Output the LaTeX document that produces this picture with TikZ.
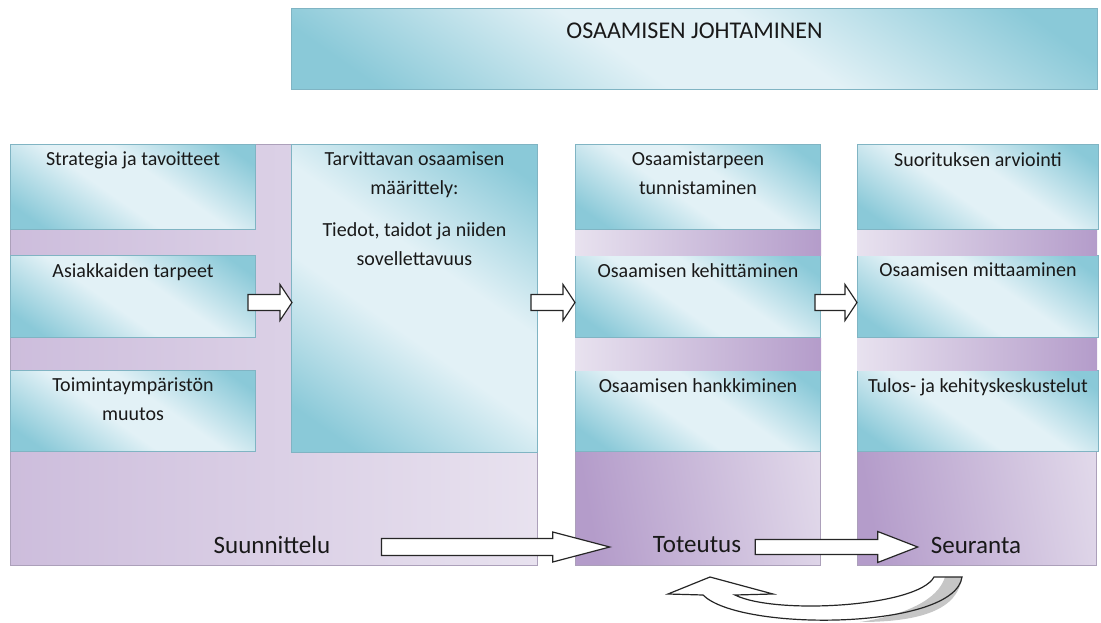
\documentclass[tikz,border=0pt]{standalone}
\usepackage{fontspec}
\setmainfont{Carlito}
\usetikzlibrary{positioning,calc}

\definecolor{blueDark}{RGB}{138,201,216}
\definecolor{blueLight}{RGB}{226,241,246}
\definecolor{blueEdge}{RGB}{128,180,195}
\definecolor{purpDark}{RGB}{180,156,202}
\definecolor{purpMid}{RGB}{205,189,220}
\definecolor{purpLight}{RGB}{232,226,239}
\definecolor{purpEdge}{RGB}{172,160,186}
\definecolor{textcol}{RGB}{25,25,25}

\pgfdeclareverticalshading{glass}{100bp}{color(0bp)=(blueDark); color(22bp)=(blueDark);
  color(44bp)=(blueLight); color(57bp)=(blueLight); color(79bp)=(blueDark); color(100bp)=(blueDark)}

\tikzset{
  bluebox/.style={rectangle, anchor=north west, inner sep=0pt, draw=blueEdge, line width=1pt,
    shading=glass, shading angle=-35},
  colbox/.style={rectangle, anchor=north west, inner sep=0pt, draw=purpEdge, line width=1pt,
    left color=purpDark, right color=purpLight, shading angle=120},
  stripe/.style={left color=purpLight, right color=purpDark},
  boxtext/.style={inner sep=0pt, align=center, text=textcol, font=\fontsize{20}{29}\selectfont},
  titletext/.style={inner sep=0pt, text=textcol, font=\fontsize{24}{28}\selectfont},
  phasetext/.style={inner sep=0pt, text=textcol, font=\fontsize{25}{30}\selectfont},
  blockarrow/.style={fill=white, draw=black!85, line width=1.2pt, line join=miter},
}

% hollow block arrow: start, end, shaft half, head half, head length
\newcommand{\hollowarrow}[5]{%
  \draw[blockarrow] ($(#1)+(0,#3)$) -- ($(#2)+(-#5,#3)$) -- ($(#2)+(-#5,#4)$) -- (#2)
    -- ($(#2)+(-#5,-#4)$) -- ($(#2)+(-#5,-#3)$) -- ($(#1)+(0,-#3)$) -- cycle;}

\begin{document}
\begin{tikzpicture}[x=1pt,y=-1pt]
  \useasboundingbox (0,0) rectangle (1101,623);

  % otsikko
  \node[bluebox, minimum width=806pt, minimum height=81pt] (johto) at (291,8) {};
  \node[titletext, below=15pt of johto.north] {OSAAMISEN JOHTAMINEN};

  % vaiheet
  \node[colbox, minimum width=527pt, minimum height=421pt, left color=purpMid] (suunnittelu) at (10,144) {};
  \node[colbox, minimum width=245pt, minimum height=421pt, shading angle=100] (toteutus) at (575,144) {};
  \node[colbox, minimum width=239pt, minimum height=421pt, shading angle=100] (seuranta) at (857,144) {};

  % suunnittelu
  \node[bluebox, minimum width=245pt, minimum height=85pt] (strategia) at (10,144) {};
  \node[bluebox, minimum width=245pt, minimum height=82pt] (asiakkaat) at (10,255) {};
  \node[bluebox, minimum width=245pt, minimum height=81pt] (ymparisto) at (10,370) {};
  \node[bluebox, minimum width=246pt, minimum height=308pt] (maarittely) at (291,144) {};
  \node[boxtext, below=8pt of strategia.north] {Strategia ja tavoitteet};
  \node[boxtext, below=8pt of asiakkaat.north] {Asiakkaiden tarpeet};
  \node[boxtext, below=8pt of ymparisto.north] {Toimintaympäristön\\muutos};
  \node[boxtext, below=8pt of maarittely.north] {Tarvittavan osaamisen\\määrittely:\\[13pt]Tiedot, taidot ja niiden\\sovellettavuus};

  % toteutus
  \node[bluebox, minimum width=245pt, minimum height=85pt] (tunnistus) at (575,144) {};
  \node[bluebox, minimum width=245pt, minimum height=82pt] (kehitys) at (575,255) {};
  \node[bluebox, minimum width=245pt, minimum height=81pt] (hankinta) at (575,370) {};
  \path[stripe] (tunnistus.south west) rectangle (kehitys.north east);
  \path[stripe] (kehitys.south west) rectangle (hankinta.north east);
  \node[boxtext, below=8pt of tunnistus.north] {Osaamistarpeen\\tunnistaminen};
  \node[boxtext, below=8pt of kehitys.north] {Osaamisen kehittäminen};
  \node[boxtext, below=8pt of hankinta.north] {Osaamisen hankkiminen};

  % seuranta
  \node[bluebox, minimum width=241pt, minimum height=85pt] (arviointi) at (857,144) {};
  \node[bluebox, minimum width=241pt, minimum height=82pt] (mittaus) at (857,255) {};
  \node[bluebox, minimum width=241pt, minimum height=81pt] (keskustelut) at (857,370) {};
  \path[stripe] (arviointi.south west) rectangle ($(mittaus.north east)+(-2,0)$);
  \path[stripe] (mittaus.south west) rectangle ($(keskustelut.north east)+(-2,0)$);
  \node[boxtext, below=8pt of arviointi.north] {Suorituksen arviointi};
  \node[boxtext, below=8pt of mittaus.north] {Osaamisen mittaaminen};
  \node[boxtext, below=8pt of keskustelut.north] {Tulos- ja kehityskeskustelut};

  % vaiheiden nimet
  \node[phasetext] (suuntxt) at (272,545) {Suunnittelu};
  \node[phasetext] (totetxt) at (697,545) {Toteutus};
  \node[phasetext] (seurtxt) at (976,545) {Seuranta};

  % nuolet
  \coordinate (a1s) at ($(asiakkaat.east)+(-8,6)$);
  \coordinate (a1e) at ($(asiakkaat.east -| maarittely.west)+(1,6)$);
  \coordinate (a2s) at ($(kehitys.west -| maarittely.east)+(-7,6)$);
  \coordinate (a2e) at ($(kehitys.west)+(0,6)$);
  \coordinate (a3s) at ($(kehitys.east)+(-6,6)$);
  \coordinate (a3e) at ($(mittaus.west)+(0,6)$);
  \hollowarrow{a1s}{a1e}{8}{18}{12}
  \hollowarrow{a2s}{a2e}{8}{18}{12}
  \hollowarrow{a3s}{a3e}{8}{18}{12}

  \coordinate (b1s) at ($(suuntxt.east)+(51,2)$);
  \coordinate (b1e) at ($(totetxt.west)+(-43,2)$);
  \coordinate (b2s) at ($(totetxt.east)+(14,2)$);
  \coordinate (b2e) at ($(seurtxt.west)+(-13,2)$);
  \hollowarrow{b1s}{b1e}{8.5}{15}{57}
  \hollowarrow{b2s}{b2e}{7.5}{15.5}{40}

  % paluunuoli
  \fill[gray!45] (945,577) -- (962,577) .. controls (958,610) and (920,622) .. (860,622)
    .. controls (905,615) and (938,600) .. (945,577) -- cycle;
  \fill[white] (934,578) .. controls (918,607) and (775,615) .. (735,595)
    -- (773,594) -- (710,577) -- (668,594) -- (703,595)
    .. controls (740,625) and (900,622) .. (935,590) -- cycle;
  \draw[blockarrow, fill=none] (934,577) .. controls (918,607) and (775,615) .. (735,595)
    -- (773,594) -- (710,577) -- (668,594) -- (703,595)
    .. controls (740,632) and (955,630) .. (962,577) -- cycle;
\end{tikzpicture}
\end{document}
